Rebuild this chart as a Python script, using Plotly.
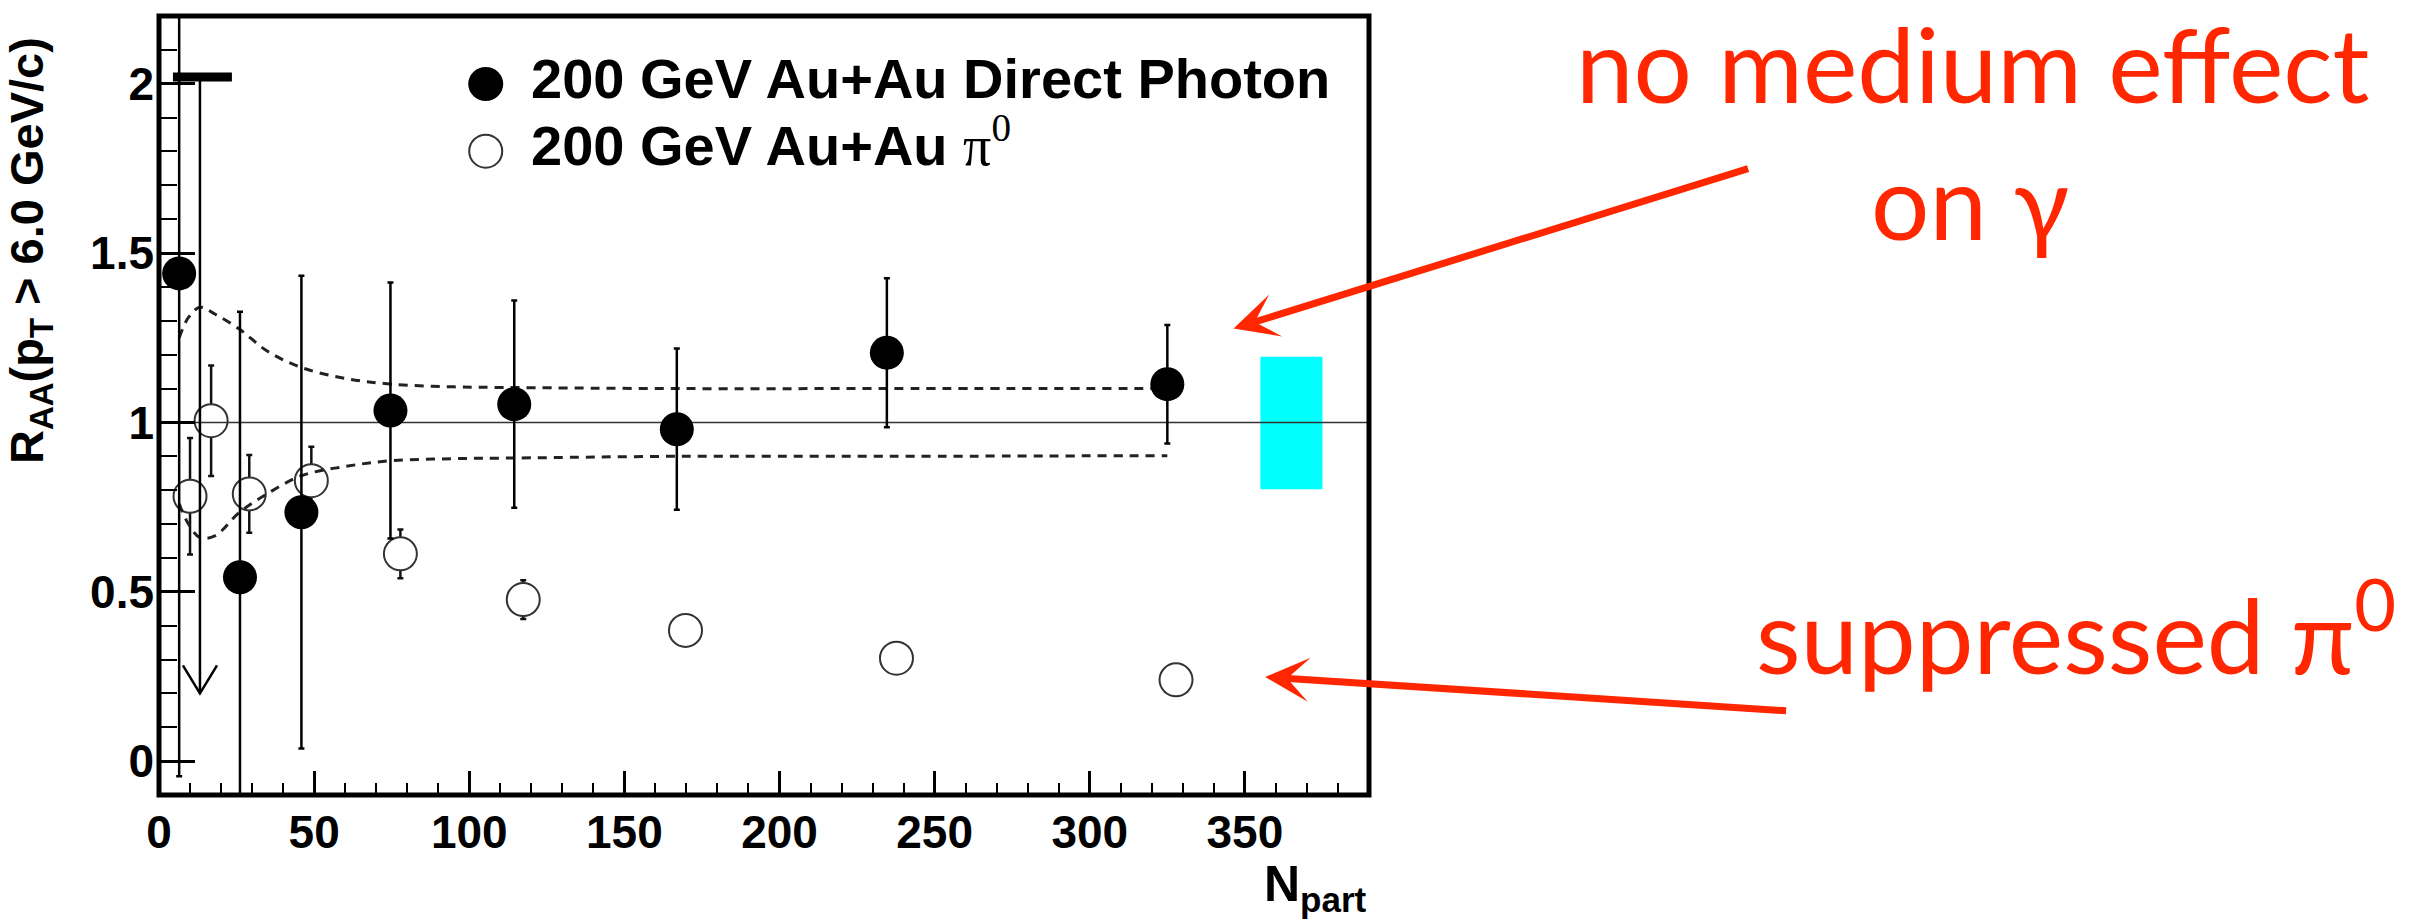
import plotly.graph_objects as go

# ---------------- data ----------------
photon_npart = [6.5, 26.1, 45.9, 74.6, 114.5, 166.9, 234.6, 325.0]
photon_raa = [1.44, 0.543, 0.735, 1.035, 1.054, 0.980, 1.206, 1.113]
photon_err = [1.485, 0.784, 0.698, 0.378, 0.306, 0.238, 0.220, 0.175]

# upper limit (photon, most peripheral-but-one bin)
ul_npart = [13.2]
ul_value = [2.02]
ul_arrow_end = [0.20]
ul_bar_npart = [4.5, 23.5]

pi0_npart = [10.0, 16.8, 29.1, 49.1, 77.8, 117.4, 169.7, 237.7, 327.8]
pi0_raa = [0.782, 1.005, 0.789, 0.828, 0.612, 0.477, 0.386, 0.304, 0.240]
pi0_err = [0.172, 0.163, 0.115, 0.100, 0.072, 0.057, 0.030, 0.025, 0.020]

band_npart = [6.5, 9.5, 13.2, 18, 26, 35, 46, 60, 75, 95, 115, 167, 235, 325]
band_upper = [1.25, 1.31, 1.34, 1.32, 1.275, 1.21, 1.162, 1.13, 1.113, 1.105, 1.103, 1.10, 1.10, 1.10]
band_lower = [0.76, 0.70, 0.66, 0.665, 0.735, 0.79, 0.843, 0.87, 0.887, 0.893, 0.895, 0.90, 0.90, 0.902]

norm_box_npart = [355, 375]
norm_box_raa = [0.803, 1.194]

x_tick_vals = [0, 50, 100, 150, 200, 250, 300, 350]
y_tick_vals = [0, 0.5, 1, 1.5, 2]
X_RANGE = [0, 390]
Y_RANGE = [-0.1, 2.2]

legend_labels = ["200 GeV Au+Au Direct Photon",
                 "200 GeV Au+Au <span style=\"font-family:'Liberation Serif';font-weight:normal\">π<sup>0</sup></span>"]
y_title = "R<sub>AA</sub>(p<sub>T</sub> &gt; 6.0 GeV/c)"
x_title = "N<sub>part</sub>"
note_top = ["no medium effect", "on γ"]
note_bottom = "suppressed π<sup>0</sup>"

# ---------------- layout geometry (pixels) ----------------
FW, FH = 2415, 923
L, W = 158.5, 1211.0
T, H = 15.5, 779.7
B = T + H
RED = "rgb(255,38,0)"
SANS = "Liberation Sans, Arial, sans-serif"
NOTE_FONT = "Lato, 'Open Sans', 'Noto Sans', sans-serif"


def px_x(px):
    return (px - L) / W


def px_y(py):
    return (B - py) / H


fig = go.Figure()

# pi0 (open circles)
fig.add_trace(go.Scatter(
    x=pi0_npart, y=pi0_raa, mode="markers",
    marker=dict(symbol="circle", size=33, color="white",
                line=dict(color="#333333", width=2)),
    error_y=dict(type="data", array=pi0_err, color="#111111", thickness=2.5, width=3),
    showlegend=False, hoverinfo="skip"))

# unity line
fig.add_trace(go.Scatter(
    x=X_RANGE, y=[1, 1], mode="lines",
    line=dict(color="#333333", width=1.6), showlegend=False, hoverinfo="skip"))

# dashed uncertainty band
for yb in (band_upper, band_lower):
    fig.add_trace(go.Scatter(
        x=band_npart, y=yb, mode="lines", line_shape="spline",
        line=dict(color="#222222", width=3, dash="9px,7px"),
        showlegend=False, hoverinfo="skip"))

# direct photon (filled circles)
fig.add_trace(go.Scatter(
    x=photon_npart, y=photon_raa, mode="markers",
    marker=dict(symbol="circle", size=34, color="black", line=dict(width=0)),
    error_y=dict(type="data", array=photon_err, color="black", thickness=2.5, width=3),
    showlegend=False, hoverinfo="skip"))

# upper limit: thick bar, shaft, open arrow head
ARROW_HALF_W = 5.5
ARROW_LEN = 0.083
for xu, yu, ye in zip(ul_npart, ul_value, ul_arrow_end):
    fig.add_trace(go.Scatter(x=ul_bar_npart, y=[yu, yu], mode="lines",
                             line=dict(color="black", width=9),
                             showlegend=False, hoverinfo="skip"))
    fig.add_trace(go.Scatter(
        x=[xu, xu, None, xu - ARROW_HALF_W, xu, xu + ARROW_HALF_W],
        y=[yu, ye, None, ye + ARROW_LEN, ye, ye + ARROW_LEN],
        mode="lines", line=dict(color="black", width=2.5),
        showlegend=False, hoverinfo="skip"))

shapes = [
    dict(type="rect", xref="x", yref="y",
         x0=norm_box_npart[0], x1=norm_box_npart[1],
         y0=norm_box_raa[0], y1=norm_box_raa[1],
         fillcolor="#00FFFF", line=dict(width=0), layer="below"),
    dict(type="rect", xref="paper", yref="paper", x0=0, x1=1, y0=0, y1=1,
         line=dict(color="black", width=5), layer="above"),
    # legend symbols
    dict(type="circle", xref="paper", yref="paper", xsizemode="pixel", ysizemode="pixel",
         xanchor=px_x(485.5), yanchor=px_y(83.5), x0=-17.5, x1=17.5, y0=-17, y1=17,
         fillcolor="black", line=dict(width=0)),
    dict(type="circle", xref="paper", yref="paper", xsizemode="pixel", ysizemode="pixel",
         xanchor=px_x(485.5), yanchor=px_y(150.8), x0=-16.5, x1=16.5, y0=-16.5, y1=16.5,
         fillcolor="rgba(0,0,0,0)", line=dict(color="#333333", width=2)),
]

annotations = [
    dict(text=legend_labels[0], xref="paper", yref="paper", x=px_x(529), y=px_y(112),
         xanchor="left", yanchor="bottom", showarrow=False,
         font=dict(family=SANS, size=56, color="black", weight="bold")),
    dict(text=legend_labels[1], xref="paper", yref="paper", x=px_x(529), y=px_y(179),
         xanchor="left", yanchor="bottom", showarrow=False,
         font=dict(family=SANS, size=56, color="black", weight="bold")),
    dict(text=y_title, xref="paper", yref="paper", x=px_x(30), y=px_y(250),
         xanchor="center", yanchor="middle", textangle=-90, showarrow=False,
         font=dict(family=SANS, size=47, color="black", weight="bold")),
    dict(text=x_title, xref="paper", yref="paper", x=px_x(1369), y=px_y(921),
         xanchor="right", yanchor="bottom", showarrow=False,
         font=dict(family=SANS, size=50, color="black", weight="bold")),
    dict(text=note_top[0], xref="paper", yref="paper", x=px_x(1973), y=px_y(127),
         xanchor="center", yanchor="bottom", showarrow=False,
         font=dict(family=NOTE_FONT, size=103, color=RED)),
    dict(text=note_top[1], xref="paper", yref="paper", x=px_x(1971), y=px_y(264),
         xanchor="center", yanchor="bottom", showarrow=False,
         font=dict(family=NOTE_FONT, size=103, color=RED)),
    dict(text=note_bottom, xref="paper", yref="paper", x=px_x(1755), y=px_y(698),
         xanchor="left", yanchor="bottom", showarrow=False,
         font=dict(family=NOTE_FONT, size=103, color=RED)),
    # red arrows
    dict(text="", xref="paper", yref="paper", x=px_x(1234), y=px_y(328.3),
         ax=516, ay=-160.3, axref="pixel", ayref="pixel", showarrow=True,
         arrowhead=3, arrowsize=1.05, arrowwidth=7, arrowcolor=RED, standoff=0),
    dict(text="", xref="paper", yref="paper", x=px_x(1265.6), y=px_y(677),
         ax=522.4, ay=34, axref="pixel", ayref="pixel", showarrow=True,
         arrowhead=3, arrowsize=1.05, arrowwidth=7, arrowcolor=RED, standoff=0),
]

fig.update_layout(
    width=FW, height=FH, autosize=False,
    margin=dict(l=L, r=FW - L - W, t=T, b=FH - B, pad=0),
    paper_bgcolor="white", plot_bgcolor="white",
    showlegend=False,
    shapes=shapes, annotations=annotations,
    xaxis=dict(range=X_RANGE, showgrid=False, zeroline=False, showline=False,
               tickmode="array", tickvals=x_tick_vals,
               ticks="inside", ticklen=24, tickwidth=2.5, tickcolor="black",
               minor=dict(dtick=10, tick0=0, ticks="inside", ticklen=12,
                          tickwidth=2, tickcolor="black", showgrid=False),
               tickfont=dict(family=SANS, size=46, color="black", weight="bold"),
               ticklabelstandoff=6),
    yaxis=dict(range=Y_RANGE, showgrid=False, zeroline=False, showline=False,
               tickmode="array", tickvals=y_tick_vals,
               ticks="inside", ticklen=36, tickwidth=2.5, tickcolor="black",
               minor=dict(dtick=0.1, tick0=0, ticks="inside", ticklen=18,
                          tickwidth=2, tickcolor="black", showgrid=False),
               tickfont=dict(family=SANS, size=46, color="black", weight="bold"),
               ticklabelstandoff=4),
)

fig.write_html("out.html", config={"displayModeBar": False},
               post_script="document.body.style.margin='0';document.body.style.overflow='hidden';")
